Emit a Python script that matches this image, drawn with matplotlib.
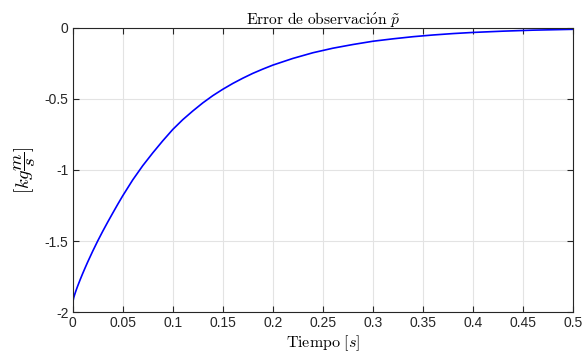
import matplotlib
matplotlib.use("Agg")
import matplotlib.pyplot as plt

# valores
tiempo = [0, 0.0002, 0.0005, 0.001, 0.002, 0.003, 0.004, 0.005, 0.0075, 0.01,
          0.0125, 0.015, 0.02, 0.025, 0.03, 0.035, 0.04, 0.045, 0.05, 0.06,
          0.07, 0.08, 0.09, 0.1, 0.11, 0.12, 0.13, 0.14, 0.15, 0.16,
          0.17, 0.18, 0.19, 0.2, 0.22, 0.24, 0.26, 0.28, 0.3, 0.32,
          0.34, 0.36, 0.38, 0.4, 0.43, 0.46, 0.5]
error_p = [-2.0, -1.94, -1.918, -1.90, -1.877, -1.856, -1.836, -1.817, -1.772, -1.729,
           -1.688, -1.648, -1.572, -1.50, -1.432, -1.367, -1.304, -1.242, -1.182, -1.07,
           -0.97, -0.88, -0.795, -0.715, -0.646, -0.585, -0.528, -0.477, -0.432, -0.391,
           -0.354, -0.320, -0.290, -0.262, -0.215, -0.175, -0.143, -0.117, -0.094, -0.077,
           -0.062, -0.050, -0.040, -0.032, -0.023, -0.016, -0.010]

xticks = [0, 0.05, 0.1, 0.15, 0.2, 0.25, 0.3, 0.35, 0.4, 0.45, 0.5]
xticklabels = ["0", "0.05", "0.1", "0.15", "0.2", "0.25", "0.3", "0.35", "0.4", "0.45", "0.5"]
yticks = [-2, -1.5, -1, -0.5, 0]
yticklabels = ["-2", "-1.5", "-1", "-0.5", "0"]

plt.rcParams['mathtext.fontset'] = 'cm'
plt.rcParams['font.family'] = ['Liberation Sans', 'DejaVu Sans']

fig = plt.figure(figsize=(5.86, 3.53), dpi=100)
ax = fig.add_axes([0.124, 0.116, 0.854, 0.805])

ax.plot(tiempo, error_p, color='#0000ff', lw=1.2)

ax.set_xlim(0, 0.5)
ax.set_ylim(-2, 0)
ax.set_xticks(xticks)
ax.set_xticklabels(xticklabels)
ax.set_yticks(yticks)
ax.set_yticklabels(yticklabels)

ax.grid(True, color='#e3e3e3', lw=0.8)
ax.set_axisbelow(True)
for s in ax.spines.values():
    s.set_color('#262626')
    s.set_linewidth(0.8)
ax.tick_params(direction='in', top=True, right=True, length=4, width=0.8,
               colors='#262626', labelsize=10, pad=3)

ax.set_title(r"$\mathrm{Error\ de\ observaci\acute{o}n}\ \tilde{p}$", fontsize=11.2,
             color='#000000', pad=3)
ax.set_xlabel(r"$\mathrm{Tiempo}\ [s]$", fontsize=11.5, labelpad=2)
ax.set_ylabel(r"$[kg\dfrac{m}{s}]$", fontsize=13.5, labelpad=5)

fig.savefig("out.png", dpi=100)
